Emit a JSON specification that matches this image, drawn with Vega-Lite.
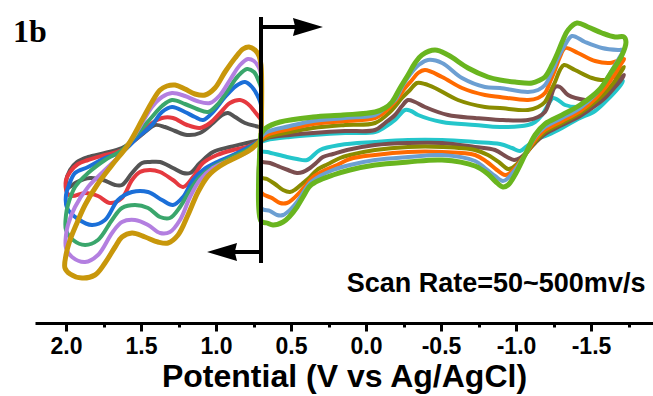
{
"$schema": "https://vega.github.io/schema/vega-lite/v6.json",
"width": 618, "height": 323,
"autosize": {"type": "none"},
"padding": {"left": 35, "top": 0, "right": 0, "bottom": 73},
"background": "white",
"config": {"view": {"stroke": null}},
"layer": [
{
"data": {"values": [
{"c":"L1","E":0.700,"I":0.0},{"c":"L1","E":0.793,"I":-0.3},{"c":"L1","E":0.907,"I":-0.7},{"c":"L1","E":1.020,"I":-1.2},{"c":"L1","E":1.107,"I":-2.3},{"c":"L1","E":1.173,"I":-3.3},{"c":"L1","E":1.220,"I":-3.3},{"c":"L1","E":1.287,"I":-2.8},{"c":"L1","E":1.373,"I":-2.2},{"c":"L1","E":1.440,"I":-2.2},{"c":"L1","E":1.493,"I":-2.3},{"c":"L1","E":1.560,"I":-3.3},{"c":"L1","E":1.627,"I":-4.5},{"c":"L1","E":1.673,"I":-4.5},{"c":"L1","E":1.753,"I":-4.0},{"c":"L1","E":1.840,"I":-3.8},{"c":"L1","E":1.927,"I":-4.2},{"c":"L1","E":1.993,"I":-4.8},
{"c":"L1","E":2.000,"I":-4.2},{"c":"L1","E":1.973,"I":-3.0},{"c":"L1","E":1.927,"I":-2.2},{"c":"L1","E":1.853,"I":-1.7},{"c":"L1","E":1.740,"I":-1.3},{"c":"L1","E":1.627,"I":-0.8},{"c":"L1","E":1.540,"I":0.0},{"c":"L1","E":1.473,"I":0.8},{"c":"L1","E":1.407,"I":1.5},{"c":"L1","E":1.340,"I":1.3},{"c":"L1","E":1.273,"I":0.9},{"c":"L1","E":1.193,"I":0.5},{"c":"L1","E":1.107,"I":0.7},{"c":"L1","E":1.020,"I":1.7},{"c":"L1","E":0.960,"I":2.5},{"c":"L1","E":0.920,"I":2.7},{"c":"L1","E":0.873,"I":2.3},{"c":"L1","E":0.807,"I":1.7},{"c":"L1","E":0.713,"I":1.3},{"c":"L1","E":0.700,"I":1.2},{"c":"L1","E":0.700,"I":0.0},

{"c":"L2","E":0.700,"I":0.0},{"c":"L2","E":0.793,"I":-0.7},{"c":"L2","E":0.887,"I":-1.0},{"c":"L2","E":0.993,"I":-1.5},{"c":"L2","E":1.087,"I":-2.3},{"c":"L2","E":1.153,"I":-3.7},{"c":"L2","E":1.220,"I":-4.7},{"c":"L2","E":1.287,"I":-4.0},{"c":"L2","E":1.373,"I":-3.2},{"c":"L2","E":1.440,"I":-3.0},{"c":"L2","E":1.507,"I":-3.2},{"c":"L2","E":1.560,"I":-4.0},{"c":"L2","E":1.627,"I":-5.8},{"c":"L2","E":1.707,"I":-6.3},{"c":"L2","E":1.787,"I":-5.6},{"c":"L2","E":1.873,"I":-5.3},{"c":"L2","E":1.960,"I":-5.6},{"c":"L2","E":1.993,"I":-5.3},
{"c":"L2","E":2.000,"I":-4.0},{"c":"L2","E":1.973,"I":-3.2},{"c":"L2","E":1.920,"I":-2.4},{"c":"L2","E":1.853,"I":-2.0},{"c":"L2","E":1.740,"I":-1.5},{"c":"L2","E":1.627,"I":-1.0},{"c":"L2","E":1.520,"I":0.3},{"c":"L2","E":1.427,"I":1.7},{"c":"L2","E":1.360,"I":2.2},{"c":"L2","E":1.287,"I":2.2},{"c":"L2","E":1.193,"I":1.5},{"c":"L2","E":1.107,"I":1.2},{"c":"L2","E":1.040,"I":1.7},{"c":"L2","E":0.973,"I":2.7},{"c":"L2","E":0.907,"I":3.7},{"c":"L2","E":0.840,"I":4.0},{"c":"L2","E":0.787,"I":3.6},{"c":"L2","E":0.740,"I":2.8},{"c":"L2","E":0.713,"I":2.3},{"c":"L2","E":0.700,"I":2.0},{"c":"L2","E":0.700,"I":0.0},

{"c":"L3","E":0.700,"I":0.0},{"c":"L3","E":0.793,"I":-0.8},{"c":"L3","E":0.887,"I":-1.5},{"c":"L3","E":0.993,"I":-2.2},{"c":"L3","E":1.087,"I":-3.0},{"c":"L3","E":1.153,"I":-4.0},{"c":"L3","E":1.220,"I":-5.7},{"c":"L3","E":1.287,"I":-6.5},{"c":"L3","E":1.360,"I":-6.0},{"c":"L3","E":1.453,"I":-5.2},{"c":"L3","E":1.560,"I":-5.2},{"c":"L3","E":1.653,"I":-6.0},{"c":"L3","E":1.740,"I":-8.0},{"c":"L3","E":1.827,"I":-8.5},{"c":"L3","E":1.920,"I":-7.9},{"c":"L3","E":1.993,"I":-6.8},
{"c":"L3","E":2.000,"I":-5.5},{"c":"L3","E":1.980,"I":-4.5},{"c":"L3","E":1.940,"I":-3.3},{"c":"L3","E":1.853,"I":-2.7},{"c":"L3","E":1.740,"I":-1.8},{"c":"L3","E":1.627,"I":-1.2},{"c":"L3","E":1.520,"I":0.3},{"c":"L3","E":1.427,"I":1.5},{"c":"L3","E":1.360,"I":2.8},{"c":"L3","E":1.293,"I":3.3},{"c":"L3","E":1.207,"I":2.8},{"c":"L3","E":1.140,"I":2.3},{"c":"L3","E":1.087,"I":2.0},{"c":"L3","E":1.020,"I":2.8},{"c":"L3","E":0.940,"I":4.3},{"c":"L3","E":0.867,"I":5.4},{"c":"L3","E":0.807,"I":5.8},{"c":"L3","E":0.760,"I":5.3},{"c":"L3","E":0.713,"I":4.1},{"c":"L3","E":0.700,"I":3.5},{"c":"L3","E":0.700,"I":0.0},

{"c":"L4","E":0.700,"I":0.0},{"c":"L4","E":0.793,"I":-1.0},{"c":"L4","E":0.907,"I":-1.8},{"c":"L4","E":1.020,"I":-2.7},{"c":"L4","E":1.107,"I":-3.7},{"c":"L4","E":1.173,"I":-5.0},{"c":"L4","E":1.240,"I":-6.7},{"c":"L4","E":1.307,"I":-7.8},{"c":"L4","E":1.373,"I":-7.7},{"c":"L4","E":1.453,"I":-6.8},{"c":"L4","E":1.540,"I":-6.5},{"c":"L4","E":1.627,"I":-6.8},{"c":"L4","E":1.693,"I":-8.0},{"c":"L4","E":1.787,"I":-10.0},{"c":"L4","E":1.873,"I":-10.5},{"c":"L4","E":1.953,"I":-10.0},{"c":"L4","E":2.000,"I":-9.0},
{"c":"L4","E":2.000,"I":-7.5},{"c":"L4","E":1.987,"I":-6.5},{"c":"L4","E":1.940,"I":-4.7},{"c":"L4","E":1.853,"I":-3.3},{"c":"L4","E":1.740,"I":-2.0},{"c":"L4","E":1.627,"I":-1.0},{"c":"L4","E":1.520,"I":0.7},{"c":"L4","E":1.427,"I":2.3},{"c":"L4","E":1.360,"I":3.4},{"c":"L4","E":1.293,"I":4.0},{"c":"L4","E":1.207,"I":3.6},{"c":"L4","E":1.127,"I":3.1},{"c":"L4","E":1.053,"I":2.8},{"c":"L4","E":0.987,"I":3.6},{"c":"L4","E":0.920,"I":5.0},{"c":"L4","E":0.853,"I":6.4},{"c":"L4","E":0.793,"I":7.1},{"c":"L4","E":0.747,"I":6.8},{"c":"L4","E":0.713,"I":5.8},{"c":"L4","E":0.700,"I":5.2},{"c":"L4","E":0.700,"I":0.0},

{"c":"L5","E":0.700,"I":0.0},{"c":"L5","E":0.793,"I":-1.2},{"c":"L5","E":0.907,"I":-2.0},{"c":"L5","E":1.020,"I":-2.8},{"c":"L5","E":1.107,"I":-4.0},{"c":"L5","E":1.173,"I":-5.7},{"c":"L5","E":1.240,"I":-8.0},{"c":"L5","E":1.307,"I":-9.2},{"c":"L5","E":1.373,"I":-9.3},{"c":"L5","E":1.453,"I":-8.5},{"c":"L5","E":1.540,"I":-8.0},{"c":"L5","E":1.627,"I":-8.2},{"c":"L5","E":1.693,"I":-9.3},{"c":"L5","E":1.787,"I":-11.5},{"c":"L5","E":1.873,"I":-12.2},{"c":"L5","E":1.960,"I":-11.7},{"c":"L5","E":2.000,"I":-10.8},
{"c":"L5","E":2.000,"I":-9.5},{"c":"L5","E":1.987,"I":-8.5},{"c":"L5","E":1.940,"I":-6.7},{"c":"L5","E":1.853,"I":-4.7},{"c":"L5","E":1.740,"I":-3.0},{"c":"L5","E":1.627,"I":-1.3},{"c":"L5","E":1.520,"I":1.0},{"c":"L5","E":1.427,"I":3.3},{"c":"L5","E":1.360,"I":4.3},{"c":"L5","E":1.293,"I":4.7},{"c":"L5","E":1.207,"I":4.4},{"c":"L5","E":1.127,"I":3.9},{"c":"L5","E":1.040,"I":3.7},{"c":"L5","E":0.973,"I":4.5},{"c":"L5","E":0.907,"I":6.0},{"c":"L5","E":0.840,"I":7.5},{"c":"L5","E":0.787,"I":8.1},{"c":"L5","E":0.747,"I":7.9},{"c":"L5","E":0.713,"I":7.2},{"c":"L5","E":0.700,"I":6.5},{"c":"L5","E":0.700,"I":0.0},

{"c":"L6","E":0.700,"I":0.0},{"c":"L6","E":0.773,"I":-1.0},{"c":"L6","E":0.873,"I":-1.8},{"c":"L6","E":0.973,"I":-2.6},{"c":"L6","E":1.053,"I":-3.6},{"c":"L6","E":1.120,"I":-5.2},{"c":"L6","E":1.187,"I":-7.5},{"c":"L6","E":1.253,"I":-9.5},{"c":"L6","E":1.320,"I":-10.3},{"c":"L6","E":1.387,"I":-10.2},{"c":"L6","E":1.473,"I":-9.7},{"c":"L6","E":1.560,"I":-9.3},{"c":"L6","E":1.627,"I":-9.7},{"c":"L6","E":1.673,"I":-10.7},{"c":"L6","E":1.740,"I":-12.3},{"c":"L6","E":1.807,"I":-13.5},{"c":"L6","E":1.893,"I":-13.8},{"c":"L6","E":1.973,"I":-13.4},{"c":"L6","E":2.007,"I":-12.8},
{"c":"L6","E":2.000,"I":-11.5},{"c":"L6","E":1.973,"I":-10.0},{"c":"L6","E":1.933,"I":-8.5},{"c":"L6","E":1.873,"I":-6.5},{"c":"L6","E":1.793,"I":-4.5},{"c":"L6","E":1.693,"I":-2.5},{"c":"L6","E":1.587,"I":-0.5},{"c":"L6","E":1.493,"I":2.0},{"c":"L6","E":1.427,"I":3.8},{"c":"L6","E":1.373,"I":5.0},{"c":"L6","E":1.327,"I":5.4},{"c":"L6","E":1.273,"I":5.5},{"c":"L6","E":1.207,"I":5.1},{"c":"L6","E":1.140,"I":4.6},{"c":"L6","E":1.073,"I":4.5},{"c":"L6","E":1.007,"I":5.2},{"c":"L6","E":0.940,"I":6.8},{"c":"L6","E":0.873,"I":8.2},{"c":"L6","E":0.820,"I":9.1},{"c":"L6","E":0.780,"I":9.3},{"c":"L6","E":0.740,"I":9.0},{"c":"L6","E":0.713,"I":8.4},{"c":"L6","E":0.700,"I":7.5},{"c":"L6","E":0.700,"I":0.0},

{"c":"R1","E":0.700,"I":-0.2},{"c":"R1","E":0.660,"I":0.0},{"c":"R1","E":0.507,"I":0.3},{"c":"R1","E":0.353,"I":0.5},{"c":"R1","E":0.140,"I":0.7},{"c":"R1","E":-0.060,"I":0.8},{"c":"R1","E":-0.127,"I":1.3},{"c":"R1","E":-0.193,"I":2.0},{"c":"R1","E":-0.260,"I":3.0},{"c":"R1","E":-0.300,"I":2.9},{"c":"R1","E":-0.347,"I":2.5},{"c":"R1","E":-0.507,"I":1.8},{"c":"R1","E":-0.727,"I":1.5},{"c":"R1","E":-0.893,"I":1.3},{"c":"R1","E":-1.080,"I":1.5},{"c":"R1","E":-1.127,"I":1.8},{"c":"R1","E":-1.173,"I":2.5},{"c":"R1","E":-1.213,"I":3.5},{"c":"R1","E":-1.247,"I":4.2},{"c":"R1","E":-1.280,"I":4.0},{"c":"R1","E":-1.327,"I":3.5},{"c":"R1","E":-1.413,"I":3.3},{"c":"R1","E":-1.527,"I":3.6},{"c":"R1","E":-1.627,"I":4.7},{"c":"R1","E":-1.713,"I":5.9},
{"c":"R1","E":-1.693,"I":5.4},{"c":"R1","E":-1.627,"I":4.3},{"c":"R1","E":-1.527,"I":2.9},{"c":"R1","E":-1.413,"I":2.1},{"c":"R1","E":-1.307,"I":1.2},{"c":"R1","E":-1.213,"I":0.5},{"c":"R1","E":-1.127,"I":0.0},{"c":"R1","E":-1.073,"I":-0.6},{"c":"R1","E":-1.027,"I":-1.1},{"c":"R1","E":-0.973,"I":-0.8},{"c":"R1","E":-0.893,"I":-0.4},{"c":"R1","E":-0.727,"I":-0.2},{"c":"R1","E":-0.507,"I":0.0},{"c":"R1","E":-0.280,"I":0.0},{"c":"R1","E":-0.060,"I":-0.2},{"c":"R1","E":0.173,"I":-0.5},{"c":"R1","E":0.307,"I":-1.0},{"c":"R1","E":0.393,"I":-2.0},{"c":"R1","E":0.460,"I":-1.9},{"c":"R1","E":0.527,"I":-1.7},{"c":"R1","E":0.660,"I":-1.2},{"c":"R1","E":0.700,"I":-1.1},{"c":"R1","E":0.700,"I":-0.2},

{"c":"R2","E":0.700,"I":-0.1},{"c":"R2","E":0.660,"I":0.2},{"c":"R2","E":0.507,"I":0.5},{"c":"R2","E":0.353,"I":0.7},{"c":"R2","E":0.140,"I":0.9},{"c":"R2","E":-0.060,"I":1.0},{"c":"R2","E":-0.127,"I":1.7},{"c":"R2","E":-0.193,"I":2.5},{"c":"R2","E":-0.240,"I":3.4},{"c":"R2","E":-0.280,"I":4.0},{"c":"R2","E":-0.327,"I":3.8},{"c":"R2","E":-0.393,"I":3.3},{"c":"R2","E":-0.547,"I":2.5},{"c":"R2","E":-0.727,"I":2.2},{"c":"R2","E":-0.893,"I":2.0},{"c":"R2","E":-1.080,"I":2.0},{"c":"R2","E":-1.147,"I":2.3},{"c":"R2","E":-1.193,"I":2.8},{"c":"R2","E":-1.227,"I":4.0},{"c":"R2","E":-1.260,"I":5.3},{"c":"R2","E":-1.293,"I":5.3},{"c":"R2","E":-1.347,"I":4.5},{"c":"R2","E":-1.460,"I":4.0},{"c":"R2","E":-1.547,"I":4.0},{"c":"R2","E":-1.640,"I":5.2},{"c":"R2","E":-1.720,"I":6.5},
{"c":"R2","E":-1.700,"I":6.0},{"c":"R2","E":-1.660,"I":5.3},{"c":"R2","E":-1.593,"I":4.2},{"c":"R2","E":-1.527,"I":3.4},{"c":"R2","E":-1.427,"I":2.4},{"c":"R2","E":-1.307,"I":1.5},{"c":"R2","E":-1.193,"I":0.6},{"c":"R2","E":-1.127,"I":-0.3},{"c":"R2","E":-1.073,"I":-1.2},{"c":"R2","E":-1.027,"I":-1.8},{"c":"R2","E":-0.987,"I":-2.0},{"c":"R2","E":-0.940,"I":-1.7},{"c":"R2","E":-0.860,"I":-1.0},{"c":"R2","E":-0.727,"I":-0.7},{"c":"R2","E":-0.507,"I":-0.3},{"c":"R2","E":-0.280,"I":-0.3},{"c":"R2","E":-0.060,"I":-0.5},{"c":"R2","E":0.127,"I":-1.0},{"c":"R2","E":0.220,"I":-1.4},{"c":"R2","E":0.287,"I":-1.7},{"c":"R2","E":0.333,"I":-2.3},{"c":"R2","E":0.373,"I":-2.8},{"c":"R2","E":0.420,"I":-3.2},{"c":"R2","E":0.460,"I":-3.3},{"c":"R2","E":0.520,"I":-3.0},{"c":"R2","E":0.573,"I":-2.7},{"c":"R2","E":0.640,"I":-2.3},{"c":"R2","E":0.700,"I":-2.1},{"c":"R2","E":0.700,"I":-0.1},

{"c":"R3","E":0.700,"I":0.0},{"c":"R3","E":0.660,"I":0.3},{"c":"R3","E":0.507,"I":0.8},{"c":"R3","E":0.353,"I":1.2},{"c":"R3","E":0.140,"I":1.5},{"c":"R3","E":-0.060,"I":1.7},{"c":"R3","E":-0.160,"I":2.8},{"c":"R3","E":-0.240,"I":4.2},{"c":"R3","E":-0.293,"I":5.0},{"c":"R3","E":-0.340,"I":5.7},{"c":"R3","E":-0.393,"I":5.6},{"c":"R3","E":-0.460,"I":5.2},{"c":"R3","E":-0.613,"I":4.0},{"c":"R3","E":-0.793,"I":3.3},{"c":"R3","E":-0.893,"I":3.2},{"c":"R3","E":-1.080,"I":3.0},{"c":"R3","E":-1.147,"I":3.3},{"c":"R3","E":-1.193,"I":3.8},{"c":"R3","E":-1.227,"I":4.8},{"c":"R3","E":-1.260,"I":5.8},{"c":"R3","E":-1.293,"I":7.0},{"c":"R3","E":-1.320,"I":7.5},{"c":"R3","E":-1.393,"I":7.0},{"c":"R3","E":-1.507,"I":6.2},{"c":"R3","E":-1.593,"I":6.0},{"c":"R3","E":-1.667,"I":6.5},{"c":"R3","E":-1.720,"I":7.3},
{"c":"R3","E":-1.700,"I":6.8},{"c":"R3","E":-1.660,"I":5.9},{"c":"R3","E":-1.593,"I":4.7},{"c":"R3","E":-1.527,"I":3.8},{"c":"R3","E":-1.427,"I":2.7},{"c":"R3","E":-1.307,"I":1.7},{"c":"R3","E":-1.193,"I":0.8},{"c":"R3","E":-1.127,"I":-0.2},{"c":"R3","E":-1.060,"I":-1.5},{"c":"R3","E":-1.007,"I":-2.4},{"c":"R3","E":-0.973,"I":-2.8},{"c":"R3","E":-0.947,"I":-2.9},{"c":"R3","E":-0.893,"I":-2.3},{"c":"R3","E":-0.813,"I":-1.5},{"c":"R3","E":-0.727,"I":-1.0},{"c":"R3","E":-0.507,"I":-0.7},{"c":"R3","E":-0.280,"I":-0.7},{"c":"R3","E":-0.060,"I":-1.0},{"c":"R3","E":0.107,"I":-1.5},{"c":"R3","E":0.173,"I":-1.8},{"c":"R3","E":0.253,"I":-2.4},{"c":"R3","E":0.327,"I":-3.0},{"c":"R3","E":0.373,"I":-3.7},{"c":"R3","E":0.420,"I":-4.3},{"c":"R3","E":0.467,"I":-4.9},{"c":"R3","E":0.507,"I":-5.2},{"c":"R3","E":0.553,"I":-5.0},{"c":"R3","E":0.607,"I":-4.4},{"c":"R3","E":0.660,"I":-3.9},{"c":"R3","E":0.700,"I":-3.7},{"c":"R3","E":0.700,"I":0.0},

{"c":"R4","E":0.700,"I":0.1},{"c":"R4","E":0.660,"I":0.5},{"c":"R4","E":0.507,"I":1.1},{"c":"R4","E":0.353,"I":1.6},{"c":"R4","E":0.140,"I":1.9},{"c":"R4","E":-0.060,"I":2.2},{"c":"R4","E":-0.140,"I":3.0},{"c":"R4","E":-0.213,"I":4.2},{"c":"R4","E":-0.260,"I":5.2},{"c":"R4","E":-0.307,"I":6.0},{"c":"R4","E":-0.347,"I":6.7},{"c":"R4","E":-0.393,"I":7.0},{"c":"R4","E":-0.507,"I":6.3},{"c":"R4","E":-0.640,"I":5.2},{"c":"R4","E":-0.793,"I":4.5},{"c":"R4","E":-0.893,"I":4.3},{"c":"R4","E":-1.080,"I":4.0},{"c":"R4","E":-1.147,"I":4.2},{"c":"R4","E":-1.193,"I":4.7},{"c":"R4","E":-1.227,"I":5.8},{"c":"R4","E":-1.260,"I":7.0},{"c":"R4","E":-1.293,"I":8.3},{"c":"R4","E":-1.327,"I":9.2},{"c":"R4","E":-1.413,"I":8.7},{"c":"R4","E":-1.527,"I":7.9},{"c":"R4","E":-1.627,"I":7.7},{"c":"R4","E":-1.720,"I":8.1},
{"c":"R4","E":-1.700,"I":7.6},{"c":"R4","E":-1.660,"I":6.6},{"c":"R4","E":-1.593,"I":5.2},{"c":"R4","E":-1.527,"I":4.1},{"c":"R4","E":-1.427,"I":2.9},{"c":"R4","E":-1.307,"I":1.9},{"c":"R4","E":-1.193,"I":1.0},{"c":"R4","E":-1.127,"I":0.0},{"c":"R4","E":-1.060,"I":-1.5},{"c":"R4","E":-1.000,"I":-2.7},{"c":"R4","E":-0.960,"I":-3.3},{"c":"R4","E":-0.927,"I":-3.5},{"c":"R4","E":-0.873,"I":-3.0},{"c":"R4","E":-0.807,"I":-2.2},{"c":"R4","E":-0.727,"I":-1.5},{"c":"R4","E":-0.507,"I":-1.2},{"c":"R4","E":-0.280,"I":-1.2},{"c":"R4","E":-0.060,"I":-1.5},{"c":"R4","E":0.107,"I":-1.9},{"c":"R4","E":0.193,"I":-2.5},{"c":"R4","E":0.273,"I":-3.0},{"c":"R4","E":0.353,"I":-3.7},{"c":"R4","E":0.400,"I":-4.5},{"c":"R4","E":0.440,"I":-5.2},{"c":"R4","E":0.487,"I":-5.9},{"c":"R4","E":0.527,"I":-6.3},{"c":"R4","E":0.573,"I":-6.3},{"c":"R4","E":0.627,"I":-5.8},{"c":"R4","E":0.700,"I":-5.2},{"c":"R4","E":0.700,"I":0.1},

{"c":"R5","E":0.700,"I":0.3},{"c":"R5","E":0.660,"I":0.8},{"c":"R5","E":0.507,"I":1.4},{"c":"R5","E":0.353,"I":1.9},{"c":"R5","E":0.140,"I":2.2},{"c":"R5","E":-0.060,"I":2.5},{"c":"R5","E":-0.127,"I":3.2},{"c":"R5","E":-0.193,"I":4.0},{"c":"R5","E":-0.247,"I":5.5},{"c":"R5","E":-0.307,"I":6.8},{"c":"R5","E":-0.360,"I":7.6},{"c":"R5","E":-0.413,"I":8.0},{"c":"R5","E":-0.507,"I":7.7},{"c":"R5","E":-0.640,"I":6.2},{"c":"R5","E":-0.793,"I":5.3},{"c":"R5","E":-0.893,"I":5.2},{"c":"R5","E":-1.080,"I":4.8},{"c":"R5","E":-1.147,"I":5.0},{"c":"R5","E":-1.193,"I":5.5},{"c":"R5","E":-1.240,"I":6.8},{"c":"R5","E":-1.280,"I":8.2},{"c":"R5","E":-1.327,"I":9.5},{"c":"R5","E":-1.373,"I":10.4},{"c":"R5","E":-1.460,"I":9.8},{"c":"R5","E":-1.573,"I":9.2},{"c":"R5","E":-1.680,"I":9.0},{"c":"R5","E":-1.720,"I":9.0},
{"c":"R5","E":-1.700,"I":8.5},{"c":"R5","E":-1.660,"I":7.5},{"c":"R5","E":-1.593,"I":5.8},{"c":"R5","E":-1.527,"I":4.5},{"c":"R5","E":-1.427,"I":3.2},{"c":"R5","E":-1.307,"I":2.2},{"c":"R5","E":-1.193,"I":1.3},{"c":"R5","E":-1.127,"I":0.3},{"c":"R5","E":-1.060,"I":-1.5},{"c":"R5","E":-0.993,"I":-3.0},{"c":"R5","E":-0.947,"I":-3.8},{"c":"R5","E":-0.913,"I":-4.1},{"c":"R5","E":-0.860,"I":-3.6},{"c":"R5","E":-0.793,"I":-2.8},{"c":"R5","E":-0.727,"I":-2.1},{"c":"R5","E":-0.507,"I":-1.5},{"c":"R5","E":-0.280,"I":-1.7},{"c":"R5","E":-0.060,"I":-2.0},{"c":"R5","E":0.107,"I":-2.5},{"c":"R5","E":0.220,"I":-3.0},{"c":"R5","E":0.307,"I":-3.6},{"c":"R5","E":0.373,"I":-4.3},{"c":"R5","E":0.420,"I":-5.3},{"c":"R5","E":0.460,"I":-6.2},{"c":"R5","E":0.507,"I":-7.0},{"c":"R5","E":0.553,"I":-7.5},{"c":"R5","E":0.593,"I":-7.5},{"c":"R5","E":0.640,"I":-7.1},{"c":"R5","E":0.700,"I":-6.8},{"c":"R5","E":0.700,"I":0.3},

{"c":"R6","E":0.700,"I":0.6},{"c":"R6","E":0.667,"I":1.2},{"c":"R6","E":0.573,"I":1.8},{"c":"R6","E":0.353,"I":2.3},{"c":"R6","E":0.153,"I":2.5},{"c":"R6","E":-0.060,"I":2.8},{"c":"R6","E":-0.127,"I":3.2},{"c":"R6","E":-0.173,"I":3.8},{"c":"R6","E":-0.227,"I":5.2},{"c":"R6","E":-0.280,"I":6.5},{"c":"R6","E":-0.327,"I":7.7},{"c":"R6","E":-0.373,"I":8.5},{"c":"R6","E":-0.460,"I":9.0},{"c":"R6","E":-0.547,"I":8.5},{"c":"R6","E":-0.680,"I":7.2},{"c":"R6","E":-0.813,"I":6.3},{"c":"R6","E":-0.893,"I":6.0},{"c":"R6","E":-0.993,"I":5.8},{"c":"R6","E":-1.107,"I":5.7},{"c":"R6","E":-1.160,"I":6.0},{"c":"R6","E":-1.193,"I":6.3},{"c":"R6","E":-1.240,"I":7.5},{"c":"R6","E":-1.280,"I":8.8},{"c":"R6","E":-1.313,"I":10.0},{"c":"R6","E":-1.347,"I":11.0},{"c":"R6","E":-1.407,"I":11.7},{"c":"R6","E":-1.480,"I":11.3},{"c":"R6","E":-1.573,"I":10.7},{"c":"R6","E":-1.660,"I":10.3},{"c":"R6","E":-1.720,"I":10.3},
{"c":"R6","E":-1.733,"I":9.8},{"c":"R6","E":-1.707,"I":8.5},{"c":"R6","E":-1.627,"I":6.6},{"c":"R6","E":-1.560,"I":5.1},{"c":"R6","E":-1.427,"I":3.5},{"c":"R6","E":-1.307,"I":2.5},{"c":"R6","E":-1.193,"I":1.6},{"c":"R6","E":-1.127,"I":0.5},{"c":"R6","E":-1.060,"I":-1.5},{"c":"R6","E":-0.993,"I":-3.5},{"c":"R6","E":-0.947,"I":-4.5},{"c":"R6","E":-0.913,"I":-4.7},{"c":"R6","E":-0.867,"I":-4.2},{"c":"R6","E":-0.813,"I":-3.4},{"c":"R6","E":-0.727,"I":-2.6},{"c":"R6","E":-0.507,"I":-2.0},{"c":"R6","E":-0.280,"I":-2.2},{"c":"R6","E":-0.060,"I":-2.5},{"c":"R6","E":0.107,"I":-3.0},{"c":"R6","E":0.220,"I":-3.5},{"c":"R6","E":0.307,"I":-4.0},{"c":"R6","E":0.373,"I":-4.6},{"c":"R6","E":0.420,"I":-5.7},{"c":"R6","E":0.460,"I":-6.7},{"c":"R6","E":0.507,"I":-7.6},{"c":"R6","E":0.553,"I":-8.2},{"c":"R6","E":0.620,"I":-8.5},{"c":"R6","E":0.660,"I":-8.3},{"c":"R6","E":0.700,"I":-8.1},{"c":"R6","E":0.700,"I":0.6}
]},
"mark": {"type": "line", "interpolate": "catmull-rom", "strokeCap": "round", "strokeJoin": "round"},
"encoding": {
"x": {"field": "E", "type": "quantitative",
 "scale": {"domain": [-1.9133, 2.2067], "reverse": true, "nice": false, "zero": false},
 "title": "Potential (V vs Ag/AgCl)",
 "axis": {
  "values": [2.0, 1.75, 1.5, 1.25, 1.0, 0.75, 0.5, 0.25, 0, -0.25, -0.5, -0.75, -1.0, -1.25, -1.5, -1.75],
  "grid": false,
  "domainColor": "black", "domainWidth": 3,
  "tickColor": "black", "tickWidth": 3,
  "tickSize": {"condition": {"test": "datum.value % 0.5 === 0", "value": 8}, "value": 4},
  "labelExpr": "datum.value % 0.5 === 0 ? replace(format(datum.value, '.1f'), '\u2212', '-') : ''",
  "labelFont": "Liberation Sans", "labelFontWeight": "bold", "labelFontSize": 23, "labelColor": "black",
  "labelPadding": 4, "labelFlush": false, "labelOverlap": false,
  "titleFont": "Liberation Sans", "titleFontWeight": "bold", "titleFontSize": 32, "titleColor": "black", "titlePadding": 3
 }},
"y": {"field": "I", "type": "quantitative", "scale": {"domain": [-18.3, 14.0], "nice": false, "zero": false}, "axis": null},
"color": {"field": "c", "type": "nominal",
 "scale": {"domain": ["L1","L2","L3","L4","L5","L6","R1","R2","R3","R4","R5","R6"],
  "range": ["#545454","#e5393f","#1b6fd8","#3aa66c","#b37fe0","#c8970b","#24c6cb","#7b4e4f","#8a8c00","#ff6a00","#6c9fd2","#69b51f"]},
 "legend": null},
"strokeWidth": {"condition": {"test": "datum.c === 'L6' || datum.c === 'R6'", "value": 5}, "value": 4},
"order": {"value": null}
}
},
{
"data": {"values": [{}]},
"mark": {"type": "rule", "color": "black", "strokeWidth": 4},
"encoding": {"x": {"datum": 0.7, "type": "quantitative"}, "y": {"datum": 12.3, "type": "quantitative"}, "y2": {"datum": -12.3}}
},
{
"data": {"values": [{}]},
"mark": {"type": "rule", "color": "black", "strokeWidth": 4},
"encoding": {"x": {"datum": 0.7, "type": "quantitative"}, "x2": {"datum": 0.40}, "y": {"datum": 11.3, "type": "quantitative"}}
},
{
"data": {"values": [{}]},
"mark": {"type": "rule", "color": "black", "strokeWidth": 4},
"encoding": {"x": {"datum": 0.7, "type": "quantitative"}, "x2": {"datum": 0.90}, "y": {"datum": -11.2, "type": "quantitative"}}
},
{
"data": {"values": [{}]},
"mark": {"type": "point", "shape": "M 1 0 L -1 -0.6 L -0.85 0 L -1 0.6 Z", "size": 900, "filled": true, "color": "black", "opacity": 1},
"encoding": {"x": {"datum": 0.387, "type": "quantitative"}, "y": {"datum": 11.3, "type": "quantitative"}}
},
{
"data": {"values": [{}]},
"mark": {"type": "point", "shape": "M -1 0 L 1 -0.6 L 0.85 0 L 1 0.6 Z", "size": 900, "filled": true, "color": "black", "opacity": 1},
"encoding": {"x": {"datum": 0.96, "type": "quantitative"}, "y": {"datum": -11.2, "type": "quantitative"}}
},
{
"data": {"values": [{"t": "1b"}]},
"mark": {"type": "text", "font": "Liberation Serif", "fontWeight": "bold", "fontSize": 32, "align": "left", "baseline": "alphabetic", "color": "black"},
"encoding": {"x": {"datum": 2.353, "type": "quantitative"}, "y": {"datum": 9.8, "type": "quantitative"}, "text": {"field": "t"}}
},
{
"data": {"values": [{"t": "Scan Rate=50~500mv/s"}]},
"mark": {"type": "text", "font": "Liberation Sans", "fontWeight": "bold", "fontSize": 27, "align": "center", "baseline": "alphabetic", "color": "black"},
"encoding": {"x": {"datum": -0.867, "type": "quantitative"}, "y": {"datum": -15.2, "type": "quantitative"}, "text": {"field": "t"}}
}
]
}
